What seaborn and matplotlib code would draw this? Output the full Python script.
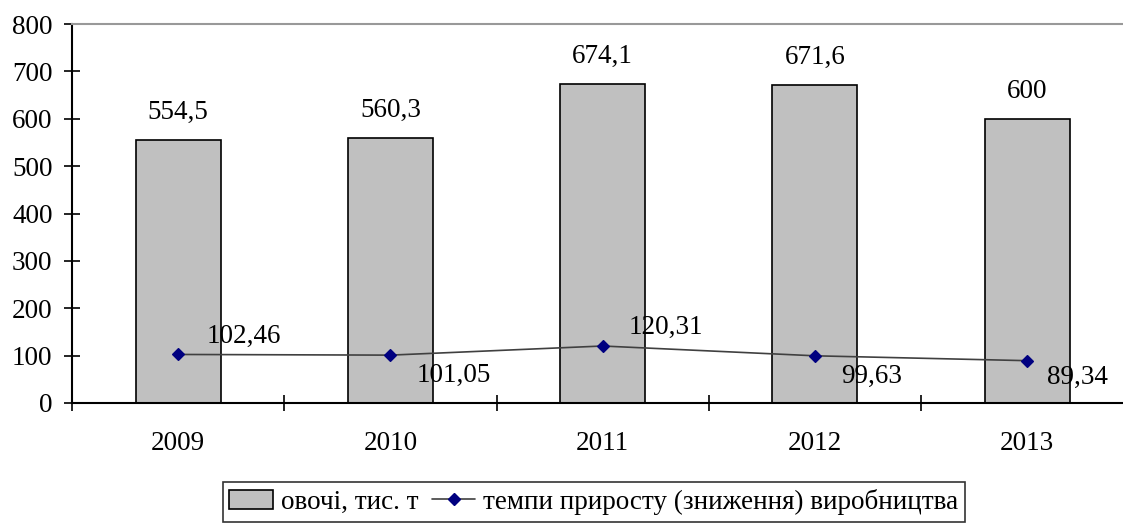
import matplotlib
matplotlib.use("Agg")
import matplotlib.pyplot as plt
import seaborn as sns
import pandas as pd
from matplotlib.patches import Patch
from matplotlib.lines import Line2D

years = ["2009", "2010", "2011", "2012", "2013"]
vegetables = [554.5, 560.3, 674.1, 671.6, 600]
growth = [102.46, 101.05, 120.31, 99.63, 89.34]
bar_labels = ["554,5", "560,3", "674,1", "671,6", "600"]
growth_labels = ["102,46", "101,05", "120,31", "99,63", "89,34"]
legend_labels = ["овочі, тис. т", "темпи приросту (зниження) виробництва"]

sns.set_style("white")
plt.rcParams["font.family"] = ["Liberation Serif", "DejaVu Serif"]
plt.rcParams["text.color"] = "black"
plt.rcParams["xtick.color"] = "black"
plt.rcParams["ytick.color"] = "black"
plt.rcParams["xtick.labelcolor"] = "black"
plt.rcParams["ytick.labelcolor"] = "black"

FS = 19.5

df = pd.DataFrame({"year": years, "veg": vegetables, "growth": growth})

fig = plt.figure(figsize=(11.23, 5.23), dpi=100)
ax = fig.add_axes([72 / 1123, (523 - 403) / 523, 1 - 72 / 1123, (403 - 24) / 523])

sns.barplot(data=df, x="year", y="veg", ax=ax, color="#C0C0C0", width=0.4,
            edgecolor="black", linewidth=1.2, saturation=1)
sns.pointplot(data=df, x="year", y="growth", ax=ax, color="#404040",
              markers="D", linestyles="-", linewidth=1.2, markersize=6,
              markerfacecolor="#000080", markeredgecolor="#000080")

for i, lab in enumerate(bar_labels):
    ax.annotate(lab, (i, vegetables[i]), xytext=(0, 15), textcoords="offset pixels",
                ha="center", va="bottom", fontsize=FS)

offsets = [(28, 6), (26, -8), (26, 6), (26, -8), (20, -4)]
vas = ["bottom", "top", "bottom", "top", "top"]
for i, lab in enumerate(growth_labels):
    ax.annotate(lab, (i, growth[i]), xytext=offsets[i], textcoords="offset pixels",
                ha="left", va=vas[i], fontsize=FS)

ax.set_ylim(0, 800)
ax.set_yticks(range(0, 801, 100))
ax.set_xlim(-0.5, -0.5 + (1123 - 72) / 212.25)
ax.set_xticks([i - 0.5 for i in range(5)], minor=True)
ax.tick_params(axis="x", which="major", bottom=False, length=0, pad=20, labelsize=FS)
ax.tick_params(axis="x", which="minor", bottom=True, length=12, direction="inout",
               width=1.2, color="black")
ax.tick_params(axis="y", left=True, length=12, direction="inout", width=1.2,
               color="black", pad=8, labelsize=FS)
ax.set_xlabel("")
ax.set_ylabel("")

for s in ["left", "bottom"]:
    ax.spines[s].set_color("black")
    ax.spines[s].set_linewidth(1.5)
ax.spines["right"].set_visible(False)
ax.spines["top"].set_color("#999999")
ax.spines["top"].set_linewidth(1.5)

handles = [
    Patch(facecolor="#C0C0C0", edgecolor="black", linewidth=1.2),
    Line2D([0], [0], color="#404040", lw=1.2, marker="D", markersize=6,
           markerfacecolor="#000080", markeredgecolor="#000080"),
]
leg = fig.legend(handles, legend_labels, loc="upper center",
                 bbox_to_anchor=(594 / 1123, (523 - 482) / 523), ncol=2,
                 frameon=True, fancybox=False, fontsize=FS, handlelength=1.6,
                 handletextpad=0.3, columnspacing=0.5, borderpad=0.25,
                 borderaxespad=0)
leg.get_frame().set_edgecolor("black")
leg.get_frame().set_linewidth(1.2)

fig.savefig("out.png", dpi=100)
